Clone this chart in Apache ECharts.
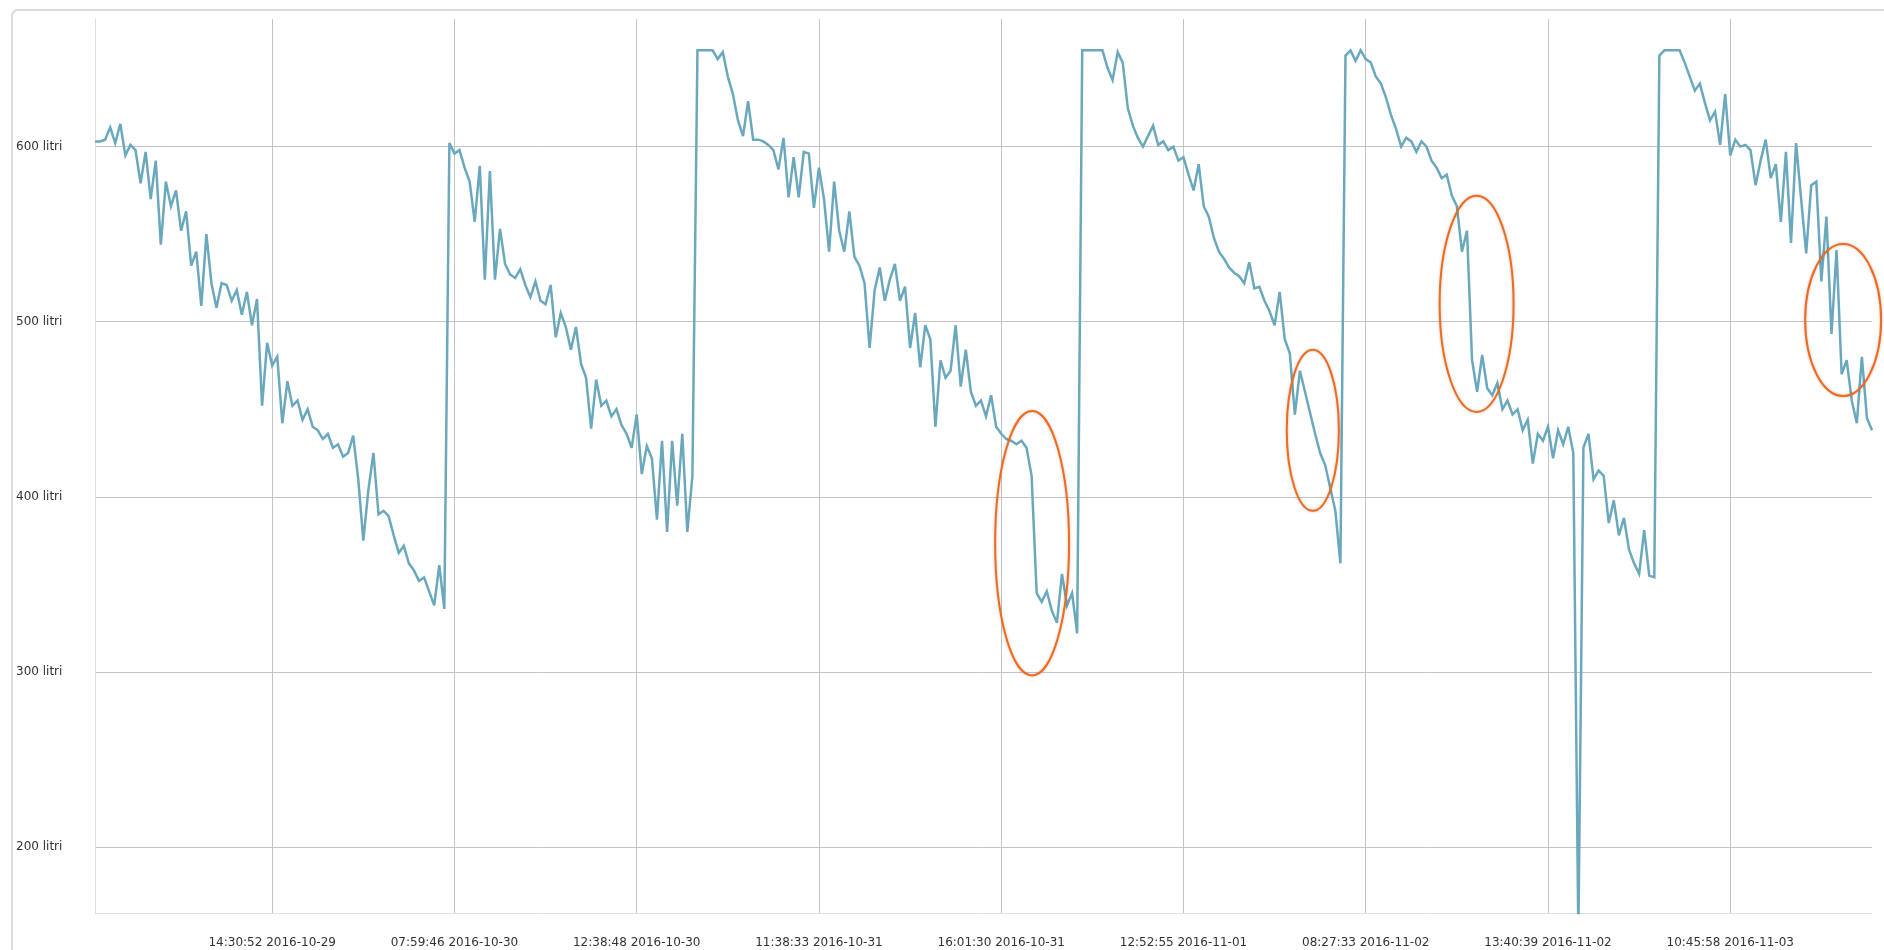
<!DOCTYPE html>
<html>
<head>
<meta charset="utf-8">
<title>Livello serbatoio</title>
<script src="https://cdn.jsdelivr.net/npm/echarts@6/dist/echarts.min.js"></script>
<style>
  html, body { margin: 0; padding: 0; background: #fff; }
  #chart { width: 1884px; height: 950px; }
</style>
</head>
<body>
<div id="chart"></div>
<script>
const levels = [
  603, 603, 604, 611, 602, 613, 595, 601, 598, 579, 597, 570, 592, 544, 580, 566, 575, 552, 563, 532,
  540, 509, 550, 522, 508, 522, 521, 512, 518, 504, 517, 498, 513, 452, 488, 475, 480, 442, 466, 452,
  455, 444, 450, 440, 438, 433, 436, 428, 430, 423, 425, 435, 410, 375, 404, 425, 390, 392, 389, 378,
  368, 372, 362, 358, 352, 354, 346, 338, 361, 336, 602, 596, 598, 588, 580, 557, 589, 524, 586, 524,
  553, 533, 527, 525, 530, 521, 514, 523, 512, 510, 521, 491, 505, 497, 484, 497, 476, 468, 439, 467,
  452, 455, 446, 450, 441, 436, 428, 447, 413, 429, 422, 387, 432, 380, 432, 395, 436, 380, 412, 655,
  655, 655, 655, 650, 654, 640, 630, 615, 606, 626, 604, 604, 603, 601, 598, 587, 605, 571, 594, 571,
  597, 596, 565, 588, 570, 540, 580, 552, 540, 563, 537, 532, 522, 485, 518, 531, 512, 524, 533, 512,
  520, 485, 505, 474, 498, 490, 440, 478, 468, 472, 498, 463, 484, 460, 452, 455, 446, 458, 440, 436,
  433, 432, 430, 432, 428, 412, 345, 340, 346, 335, 328, 356, 338, 345, 322, 655, 655, 655, 655, 655,
  645, 638, 654, 648, 622, 612, 605, 600, 606, 612, 601, 603, 598, 600, 592, 594, 584, 575, 590, 566,
  560, 548, 540, 536, 531, 528, 526, 522, 534, 519, 520, 512, 506, 498, 517, 490, 482, 447, 472, 460,
  448, 436, 425, 418, 405, 392, 362, 652, 655, 649, 655, 650, 648, 640, 636, 628, 618, 610, 600, 605,
  603, 597, 603, 600, 592, 588, 582, 584, 572, 566, 540, 552, 478, 460, 481, 462, 458, 465, 450, 455,
  447, 450, 438, 444, 419, 436, 432, 440, 422, 438, 430, 440, 425, 150, 428, 436, 410, 415, 412, 385,
  398, 378, 388, 370, 362, 356, 381, 355, 354, 652, 655, 655, 655, 655, 648, 640, 632, 636, 625, 615,
  620, 601, 630, 595, 604, 600, 601, 598, 578, 592, 604, 582, 590, 557, 597, 545, 602, 570, 539, 578,
  580, 523, 560, 493, 541, 470, 478, 455, 442, 480, 445, 438
];

const xTickLabels = [
  '14:30:52 2016-10-29', '07:59:46 2016-10-30', '12:38:48 2016-10-30',
  '11:38:33 2016-10-31', '16:01:30 2016-10-31', '12:52:55 2016-11-01',
  '08:27:33 2016-11-02', '13:40:39 2016-11-02', '10:45:58 2016-11-03'
];

const yTicks = [200, 300, 400, 500, 600];

// campione del primo tick e campioni tra due tick
const firstTick = 35;
const tickStep = 36;

// cali anomali evidenziati: [da campione, a campione, litri in alto, litri in basso]
const highlights = [
  [177.8, 192.4, 449, 298],
  [235.4, 245.7, 484, 392],
  [265.6, 280.2, 572, 448.5],
  [337.8, 352.8, 544.4, 457.6]
];

const categories = levels.map((_, i) => i);
const isTick = i => i >= firstTick && (i - firstTick) % tickStep === 0;

const chart = echarts.init(document.getElementById('chart'));

const frame = {
  type: 'rect',
  shape: { x: 12, y: 10, width: 1900, height: 960, r: 6 },
  style: { fill: 'none', stroke: '#dadada', lineWidth: 2 },
  silent: true
};

chart.setOption({
  animation: false,
  backgroundColor: '#fff',
  grid: {
    left: 95,
    right: 12,
    top: 19,
    bottom: 37,
    containLabel: false,
    outerBoundsMode: 'none'
  },
  xAxis: {
    type: 'category',
    data: categories,
    boundaryGap: false,
    axisLine: { show: true, lineStyle: { color: '#e0e0e0', width: 1 } },
    axisTick: { show: false },
    axisLabel: {
      interval: (i) => isTick(i),
      formatter: (value, i) => xTickLabels[(i - firstTick) / tickStep] || '',
      color: '#333',
      fontFamily: 'DejaVu Sans',
      fontSize: 12,
      margin: 24
    },
    splitLine: {
      show: true,
      interval: (i) => isTick(i),
      lineStyle: { color: '#c4c4c8', width: 1 }
    }
  },
  yAxis: {
    type: 'value',
    min: 162.3,
    max: 672.9,
    axisLine: { show: true, lineStyle: { color: '#e0e0e0', width: 1 } },
    axisTick: { show: false, customValues: yTicks },
    axisLabel: {
      customValues: yTicks,
      formatter: (v) => v + ' litri',
      align: 'left',
      margin: 79,
      color: '#333',
      fontFamily: 'DejaVu Sans',
      fontSize: 12
    },
    splitLine: { show: true, lineStyle: { color: '#c4c4c8', width: 1 } }
  },
  series: [
    {
      name: 'Livello',
      type: 'line',
      data: levels,
      showSymbol: false,
      symbol: 'none',
      clip: true,
      lineStyle: { color: '#6aa8bd', width: 2.5, join: 'miter', miterLimit: 4 }
    }
  ],
  graphic: [frame]
});

// ellissi arancioni posizionate sulle scale del grafico
function drawHighlights() {
  const xa = chart.convertToPixel({ xAxisIndex: 0 }, 0);
  const xb = chart.convertToPixel({ xAxisIndex: 0 }, levels.length - 1);
  const step = (xb - xa) / (levels.length - 1);
  const ellipses = highlights.map(h => {
    const x0 = xa + h[0] * step;
    const x1 = xa + h[1] * step;
    const y0 = chart.convertToPixel({ yAxisIndex: 0 }, h[2]);
    const y1 = chart.convertToPixel({ yAxisIndex: 0 }, h[3]);
    return {
      type: 'ellipse',
      shape: { cx: (x0 + x1) / 2, cy: (y0 + y1) / 2, rx: (x1 - x0) / 2, ry: (y1 - y0) / 2 },
      style: {
        fill: 'none',
        stroke: '#f26a1b',
        lineWidth: 2,
        shadowBlur: 3,
        shadowColor: 'rgba(0,0,0,0.25)'
      },
      z: 100,
      silent: true
    };
  });
  chart.setOption({ graphic: [frame].concat(ellipses) }, { replaceMerge: ['graphic'] });
}

drawHighlights();
</script>
</body>
</html>
